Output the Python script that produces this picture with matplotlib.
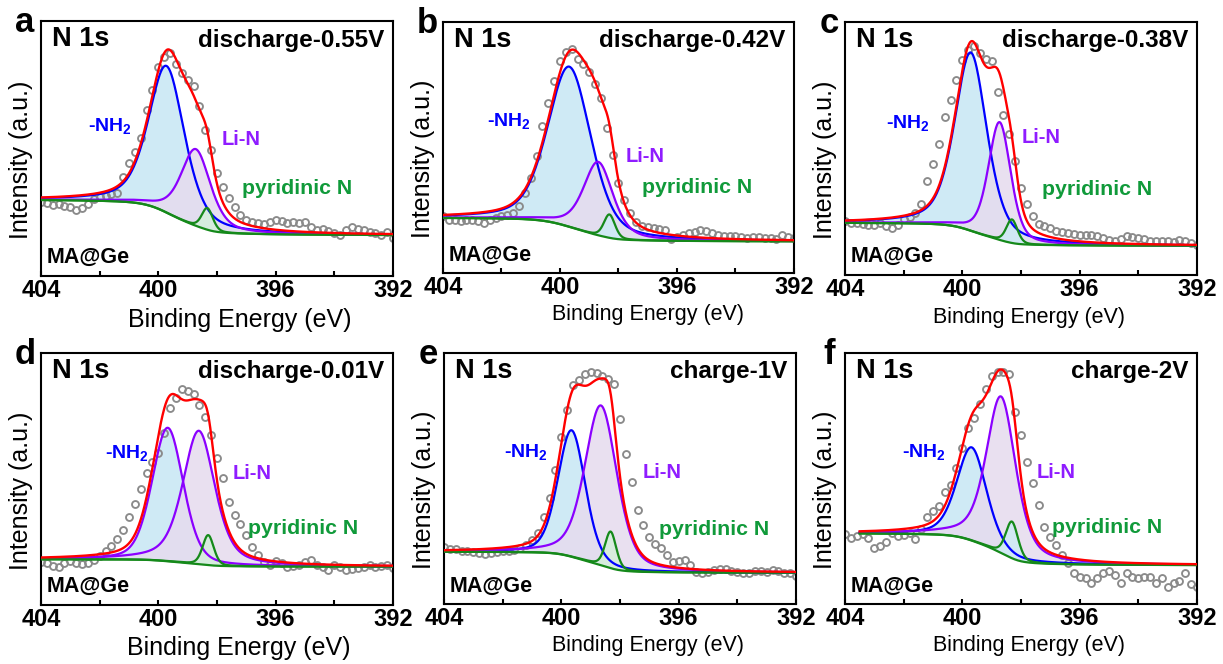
import numpy as np
import matplotlib.pyplot as plt

plt.rcParams['font.family'] = ['Liberation Sans', 'DejaVu Sans']
plt.rcParams['font.weight'] = 'bold'
plt.rcParams['mathtext.fontset'] = 'custom'
plt.rcParams['mathtext.rm'] = 'Liberation Sans:bold'
plt.rcParams['mathtext.it'] = 'Liberation Sans:bold'
plt.rcParams['mathtext.bf'] = 'Liberation Sans:bold'

# N 1s spectra, binding energy grid (eV), 0.2 eV step
energy = np.linspace(404.0, 392.0, 61)

# raw counts (a.u.)
counts_a = [223, 218, 213, 216, 210, 206, 198, 203, 216, 230,
            236, 240, 245, 250, 298, 338, 373, 413, 498, 558,
            628, 656, 668, 636, 608, 588, 570, 510, 438, 378,
            308, 268, 233, 206, 183, 168, 161, 158, 156, 163,
            168, 166, 160, 163, 160, 163, 146, 138, 140, 136,
            128, 123, 138, 148, 140, 138, 133, 128, 123, 133, 113]
counts_b = [170, 160, 158, 155, 158, 160, 155, 150, 158, 165,
            170, 175, 180, 200, 240, 285, 350, 440, 510, 575,
            635, 662, 672, 642, 625, 602, 565, 525, 435, 355,
            270, 220, 180, 152, 142, 137, 135, 132, 128, 102,
            108, 115, 120, 122, 130, 125, 120, 115, 112, 110,
            110, 108, 105, 108, 108, 106, 104, 102, 115, 108, 105]
counts_c = [160, 155, 155, 152, 150, 148, 155, 145, 140, 150,
            165, 172, 185, 210, 280, 330, 390, 470, 520, 580,
            640, 670, 682, 660, 642, 635, 545, 475, 420, 340,
            260, 210, 175, 152, 145, 140, 132, 128, 125, 122,
            120, 120, 118, 115, 110, 105, 100, 108, 115, 112,
            110, 108, 102, 100, 102, 100, 98, 105, 100, 95, 90]
counts_d = [130, 125, 117, 113, 125, 133, 127, 123, 125, 135,
            147, 163, 177, 197, 225, 263, 303, 347, 395, 427,
            455, 515, 590, 620, 647, 642, 633, 600, 563, 510,
            440, 380, 310, 270, 243, 210, 175, 150, 130, 120,
            133, 125, 115, 117, 120, 130, 135, 120, 113, 105,
            120, 113, 105, 107, 110, 115, 120, 115, 117, 120, 110]
counts_e = [172, 164, 165, 160, 160, 157, 152, 150, 154, 156,
            158, 160, 162, 167, 177, 192, 214, 262, 317, 402,
            502, 582, 657, 674, 690, 697, 694, 684, 677, 662,
            557, 452, 367, 282, 237, 202, 180, 167, 147, 127,
            130, 132, 117, 97, 94, 97, 102, 104, 104, 100,
            97, 92, 94, 100, 99, 97, 102, 100, 92, 94, 84]
counts_f = [210, 197, 204, 210, 197, 167, 174, 187, 214, 204,
            207, 212, 194, 225, 262, 280, 295, 335, 357, 410,
            470, 530, 560, 600, 645, 685, 697, 697, 692, 577,
            507, 427, 362, 297, 232, 202, 177, 147, 122, 92,
            82, 77, 62, 77, 94, 100, 87, 64, 92, 82,
            77, 80, 82, 64, 77, 50, 62, 70, 94, 60, 52]
spectra = [counts_a, counts_b, counts_c, counts_d, counts_e, counts_f]

letters = ['a', 'b', 'c', 'd', 'e', 'f']
conditions = ['discharge-0.55V', 'discharge-0.42V', 'discharge-0.38V',
              'discharge-0.01V', 'charge-1V', 'charge-2V']
y_top = [765, 752, 752, 755, 754, 754]

# fit: Shirley background end levels and fit window
bg_high = [228, 165, 155, 137, 157, 212]
bg_low = [123, 95, 87, 115, 94, 117]
fit_start = [404.0, 404.0, 404.0, 404.0, 404.0, 403.5]

# fitted components (pseudo-Voigt): center, height, FWHM, Lorentz fraction
nh2_center = [399.72, 399.68, 399.71, 399.68, 399.65, 399.68]
nh2_height = [440, 480, 530, 400, 380, 280]
nh2_fwhm = [1.45, 1.75, 1.3, 1.25, 1.1, 1.2]
nh2_eta = [0.5, 0.4, 0.5, 0.3, 0.3, 0.4]
lin_center = [398.72, 398.69, 398.73, 398.62, 398.65, 398.68]
lin_height = [230, 220, 350, 400, 480, 470]
lin_fwhm = [1.2, 1.2, 0.9, 1.3, 1.3, 1.2]
lin_eta = [0.5, 0.5, 0.4, 0.5, 0.4, 0.5]
pyr_center = [398.33, 398.31, 398.31, 398.30, 398.32, 398.31]
pyr_height = [65, 70, 70, 90, 110, 110]
pyr_fwhm = [0.45, 0.45, 0.45, 0.45, 0.45, 0.5]
pyr_eta = [0.3, 0.3, 0.3, 0.3, 0.3, 0.3]

# label positions (axes fraction)
nh2_pos = [(0.134, 0.57), (0.125, 0.585), (0.117, 0.58), (0.182, 0.585), (0.17, 0.585), (0.162, 0.585)]
lin_pos = [(0.514, 0.514), (0.519, 0.442), (0.503, 0.52), (0.545, 0.5), (0.565, 0.5), (0.543, 0.5)]
pyr_pos = [(0.571, 0.322), (0.567, 0.319), (0.56, 0.317), (0.589, 0.282), (0.61, 0.274), (0.588, 0.282)]
xlabel_shift = [23, 30, 8, 22, 28, 8]
xlabel_size = [18, 15.5, 15.5, 18, 15.5, 15.5]

RED, BLUE, PURPLE, GREEN = '#ff0000', '#0000ff', '#8b00ff', '#15891a'
FILL_BLUE, FILL_PURPLE, FILL_GREEN = '#cfeaf5', '#e6dbee', '#d5eedd'
nh2_line = [BLUE, BLUE, BLUE, PURPLE, BLUE, BLUE]
pyr_fill = [FILL_GREEN, FILL_BLUE, FILL_BLUE, FILL_GREEN, FILL_GREEN, FILL_BLUE]


def pvoigt(x, c, h, w, eta):
    r2 = ((x - c) / (w / 2.0)) ** 2
    return h * (eta / (1.0 + r2) + (1.0 - eta) * np.exp(-np.log(2.0) * r2))


def shirley(x, peaks, hi, lo):
    # x runs from high to low binding energy
    seg = (peaks[1:] + peaks[:-1]) / 2.0 * np.abs(np.diff(x))
    area = np.append(np.cumsum(seg[::-1])[::-1], 0.0)
    return lo + (hi - lo) * area / area[0]


W, H = 1223, 664
boxes = [(41, 21, 393, 276), (443, 22, 794, 273), (845, 22, 1197, 275),
         (41, 353, 393, 605), (444, 353, 796, 604), (845, 353, 1197, 604)]

fig = plt.figure(figsize=(W / 100, H / 100), dpi=100, facecolor='w')

for i in range(6):
    l, t, r, b = boxes[i]
    ax = fig.add_axes([l / W, 1 - b / H, (r - l) / W, (b - t) / H])
    pw = r - l

    ax.plot(energy, spectra[i], 'o', ms=5.0, mfc='none', mec='#8a8a8a', mew=1.35, zorder=2)

    x = np.linspace(fit_start[i], 392.0, 600)
    p1 = pvoigt(x, nh2_center[i], nh2_height[i], nh2_fwhm[i], nh2_eta[i])
    p2 = pvoigt(x, lin_center[i], lin_height[i], lin_fwhm[i], lin_eta[i])
    p3 = pvoigt(x, pyr_center[i], pyr_height[i], pyr_fwhm[i], pyr_eta[i])
    bg = shirley(x, p1 + p2 + p3, bg_high[i], bg_low[i])

    ax.fill_between(x, bg, bg + p1, color=FILL_BLUE, lw=0, zorder=1)
    ax.fill_between(x, bg, bg + p2, color=FILL_PURPLE, alpha=0.85, lw=0, zorder=1)
    ax.fill_between(x, bg, bg + p3, color=pyr_fill[i], alpha=0.9, lw=0, zorder=1)

    ax.plot(x, bg, color=GREEN, lw=1.6, zorder=3)
    ax.plot(x, bg + p1, color=nh2_line[i], lw=1.6, zorder=3)
    ax.plot(x, bg + p2, color=PURPLE, lw=1.6, zorder=3)
    ax.plot(x, bg + p3, color=GREEN, lw=1.6, zorder=3)
    ax.plot(x, bg + p1 + p2 + p3, color=RED, lw=1.7, zorder=4)

    ax.set_xlim(404, 392)
    ax.set_ylim(0, y_top[i])
    ax.set_xticks([404, 400, 396, 392])
    ax.set_xticks([402, 398, 394], minor=True)
    ax.set_yticks([])
    ax.tick_params(axis='x', which='both', direction='in', length=3.6, width=1.5,
                   pad=2, labelsize=17)
    for s in ax.spines.values():
        s.set_linewidth(1.5)

    ax.set_xlabel('Binding Energy (eV)', fontsize=xlabel_size[i])
    ax.xaxis.set_label_coords(0.5 + xlabel_shift[i] / pw, -0.125)
    ax.set_ylabel('Intensity (a.u.)', fontsize=18)
    ax.yaxis.set_label_coords(-0.023, 0.455)

    ax.text(-16 / pw, 0.957, letters[i], transform=ax.transAxes, fontsize=25,
            ha='center', va='baseline')
    ax.text(0.03, 0.9, 'N 1s', transform=ax.transAxes, fontsize=19.5, va='baseline')
    ax.text(1 - 9 / pw, 0.9, conditions[i], transform=ax.transAxes, fontsize=17.5,
            ha='right', va='baseline')
    ax.text(0.017, 0.05, 'MA@Ge', transform=ax.transAxes, fontsize=15.5, va='baseline')

    ax.text(nh2_pos[i][0], nh2_pos[i][1], '-NH$_2$', transform=ax.transAxes,
            fontsize=14, color=BLUE, va='baseline')
    ax.text(lin_pos[i][0], lin_pos[i][1], 'Li-N', transform=ax.transAxes,
            fontsize=14.5, color='#8f1cff', va='baseline')
    ax.text(pyr_pos[i][0], pyr_pos[i][1], 'pyridinic N', transform=ax.transAxes,
            fontsize=15.3, color='#109a3a', va='baseline')

fig.savefig('out.png', dpi=100, facecolor='w')
